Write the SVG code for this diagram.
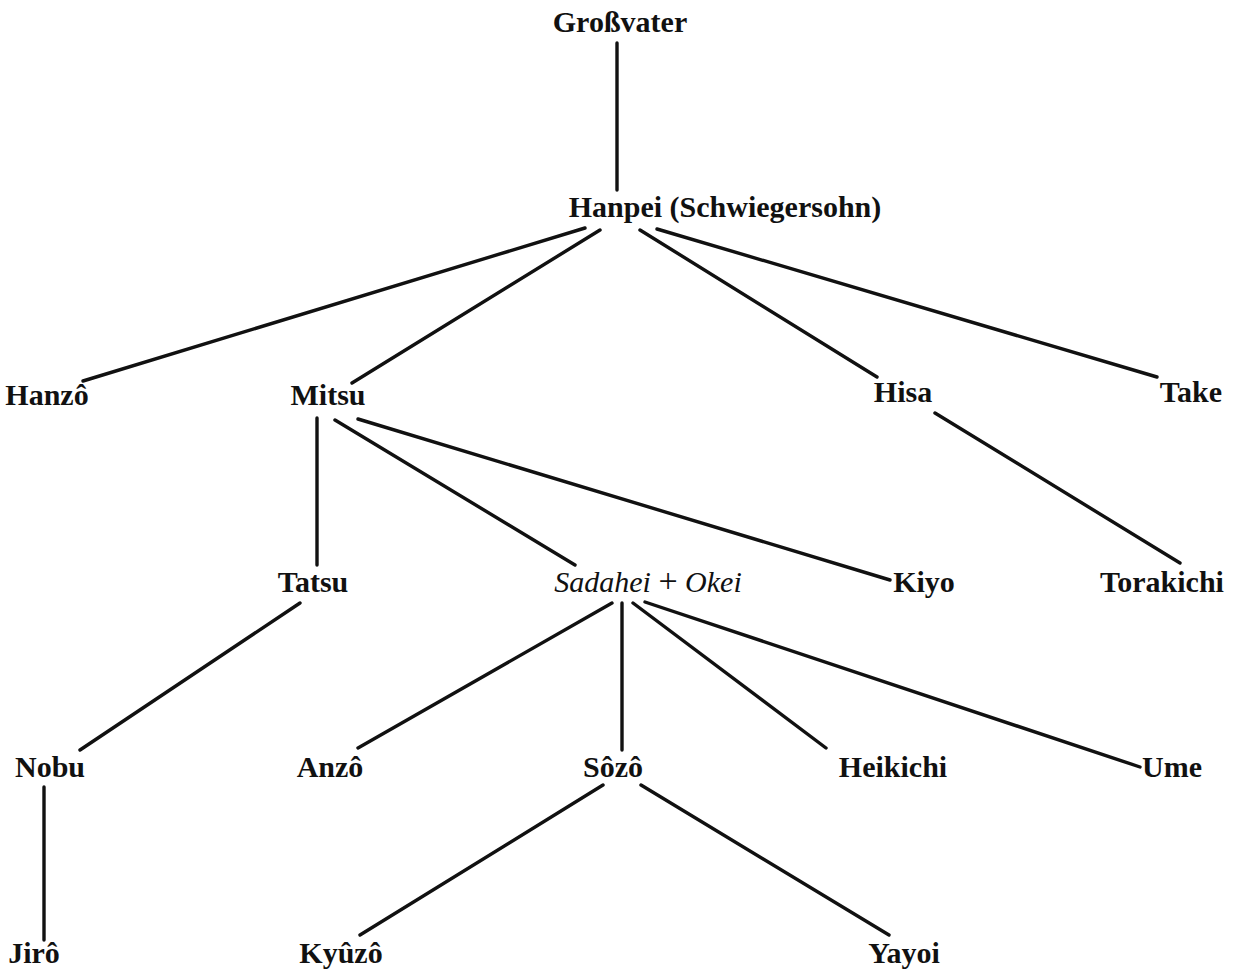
<svg xmlns="http://www.w3.org/2000/svg" width="1236" height="979" viewBox="0 0 1236 979">
<style>
.t{font-family:"Liberation Serif","DejaVu Serif",serif;font-size:30px;font-weight:bold;fill:#111;text-anchor:middle}
.i{font-style:italic;font-weight:normal}
.p{font-weight:normal;font-size:34px}
.c line{stroke:#111;stroke-width:3.4;stroke-linecap:round}
</style>
<rect width="1236" height="979" fill="#fff"/>
<g class="c" id="connectors">
<line x1="617" y1="43" x2="617" y2="190"/>
<line x1="585" y1="228" x2="83" y2="381"/>
<line x1="600" y1="230" x2="352" y2="383"/>
<line x1="640" y1="230" x2="877" y2="377"/>
<line x1="657" y1="229" x2="1157" y2="377"/>
<line x1="317" y1="418" x2="317" y2="565"/>
<line x1="335" y1="420" x2="575" y2="565"/>
<line x1="358" y1="419" x2="890" y2="580"/>
<line x1="935" y1="413" x2="1180" y2="563"/>
<line x1="300" y1="603" x2="80" y2="750"/>
<line x1="612" y1="603" x2="358" y2="748"/>
<line x1="622" y1="603" x2="622" y2="750"/>
<line x1="633" y1="603" x2="826" y2="748"/>
<line x1="645" y1="602" x2="1140" y2="767"/>
<line x1="44" y1="787" x2="44" y2="940"/>
<line x1="603" y1="785" x2="360" y2="935"/>
<line x1="641" y1="785" x2="889" y2="935"/>
</g>
<g id="n-grossvater"><text class="t" x="620" y="32">Großvater</text></g>
<g id="n-hanpei"><text class="t" x="725" y="217">Hanpei (Schwiegersohn)</text></g>
<g id="n-hanzo"><text class="t" x="47" y="405">Hanzô</text></g>
<g id="n-mitsu"><text class="t" x="328" y="405">Mitsu</text></g>
<g id="n-hisa"><text class="t" x="903" y="402">Hisa</text></g>
<g id="n-take"><text class="t" x="1191" y="402">Take</text></g>
<g id="n-tatsu"><text class="t" x="313" y="592">Tatsu</text></g>
<g id="n-sadahei"><text class="t" x="648" y="592"><tspan class="i">Sadahei</tspan> <tspan class="p">+</tspan> <tspan class="i">Okei</tspan></text></g>
<g id="n-kiyo"><text class="t" x="924" y="592">Kiyo</text></g>
<g id="n-torakichi"><text class="t" x="1162" y="592">Torakichi</text></g>
<g id="n-nobu"><text class="t" x="50" y="777">Nobu</text></g>
<g id="n-anzo"><text class="t" x="330" y="777">Anzô</text></g>
<g id="n-sozo"><text class="t" x="613" y="777">Sôzô</text></g>
<g id="n-heikichi"><text class="t" x="893" y="777">Heikichi</text></g>
<g id="n-ume"><text class="t" x="1172" y="777">Ume</text></g>
<g id="n-jiro"><text class="t" x="34" y="963">Jirô</text></g>
<g id="n-kyuzo"><text class="t" x="341" y="963">Kyûzô</text></g>
<g id="n-yayoi"><text class="t" x="904" y="963">Yayoi</text></g>
</svg>
